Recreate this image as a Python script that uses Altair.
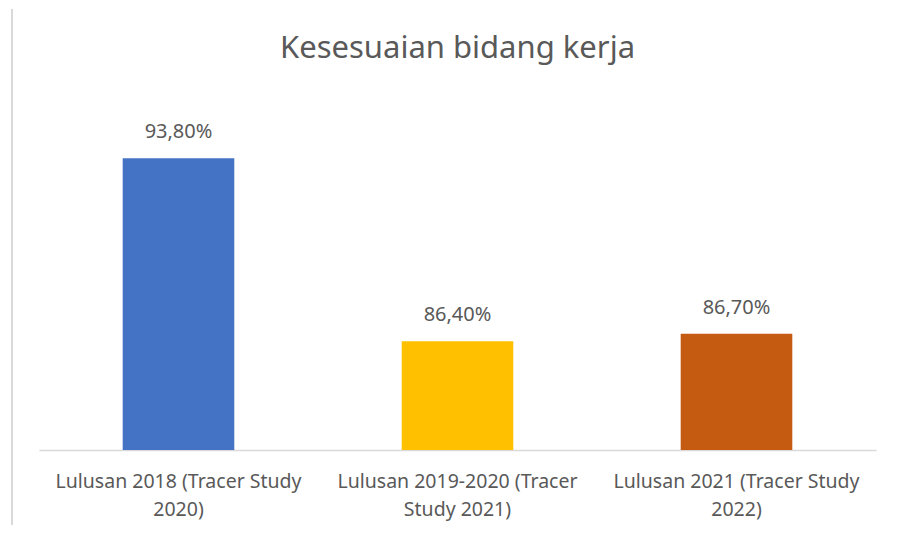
import json
import altair as alt
import pandas as pd

title_text = "Kesesuaian bidang kerja"
categories = [
    "Lulusan 2018 (Tracer Study 2020)",
    "Lulusan 2019-2020 (Tracer Study 2021)",
    "Lulusan 2021 (Tracer Study 2022)",
]
label_lines = [
    ["Lulusan 2018 (Tracer Study", "2020)"],
    ["Lulusan 2019-2020 (Tracer", "Study 2021)"],
    ["Lulusan 2021 (Tracer Study", "2022)"],
]
values = [93.8, 86.4, 86.7]
colors = ["#4472C4", "#FFC000", "#C55A11"]
y_domain = [82, 96]

df = pd.DataFrame({"cat": categories, "v": values})
title_df = pd.DataFrame({"t": [title_text]})

FONT = "Noto Sans"
TXT = "#595959"
W, H = 837, 346

label_map = json.dumps(dict(zip(categories, label_lines)))

x_enc = alt.X(
    "cat:N",
    sort=categories,
    scale=alt.Scale(paddingInner=0.6, paddingOuter=0.3),
    axis=alt.Axis(
        title=None,
        labelAngle=0,
        labelExpr=f"{label_map}[datum.label]",
        labelFont=FONT,
        labelFontSize=19.5,
        labelColor=TXT,
        labelLineHeight=28,
        labelPadding=22,
        labelLimit=400,
        ticks=False,
        domainColor="#D9D9D9",
        domainWidth=1.5,
        grid=False,
    ),
)
y_scale = alt.Scale(domain=y_domain, zero=False, nice=False)

bars = alt.Chart(df).mark_bar(clip=True).encode(
    x=x_enc,
    y=alt.Y("v:Q", scale=y_scale, axis=None),
    color=alt.Color("cat:N", scale=alt.Scale(domain=categories, range=colors), legend=None),
)

texts = alt.Chart(df).transform_calculate(
    lbl="replace(format(datum.v, '.2f'), '.', ',') + '%'"
).mark_text(font=FONT, fontSize=20, color=TXT, baseline="middle", dy=-26).encode(
    x=alt.X("cat:N", sort=categories),
    y=alt.Y("v:Q", scale=y_scale),
    text="lbl:N",
)

border = alt.Chart(df).mark_rule(color="#D9D9D9", strokeWidth=1.5).encode(
    x=alt.value(-27), y=alt.value(-95), y2=alt.value(427)
)

title_mark = alt.Chart(title_df).mark_text(
    font=FONT, fontSize=31, color=TXT, align="center", baseline="alphabetic"
).encode(x=alt.value(W / 2), y=alt.value(-46), text="t:N")

chart = alt.layer(border, bars, texts, title_mark).properties(
    width=W,
    height=H,
    autosize=alt.AutoSizeParams(type="none"),
    padding={"left": 31, "top": 96, "right": 22, "bottom": 75},
    background="white",
).configure_view(stroke=None)

chart.save("out.html", embed_options={"renderer": "svg", "actions": False})
